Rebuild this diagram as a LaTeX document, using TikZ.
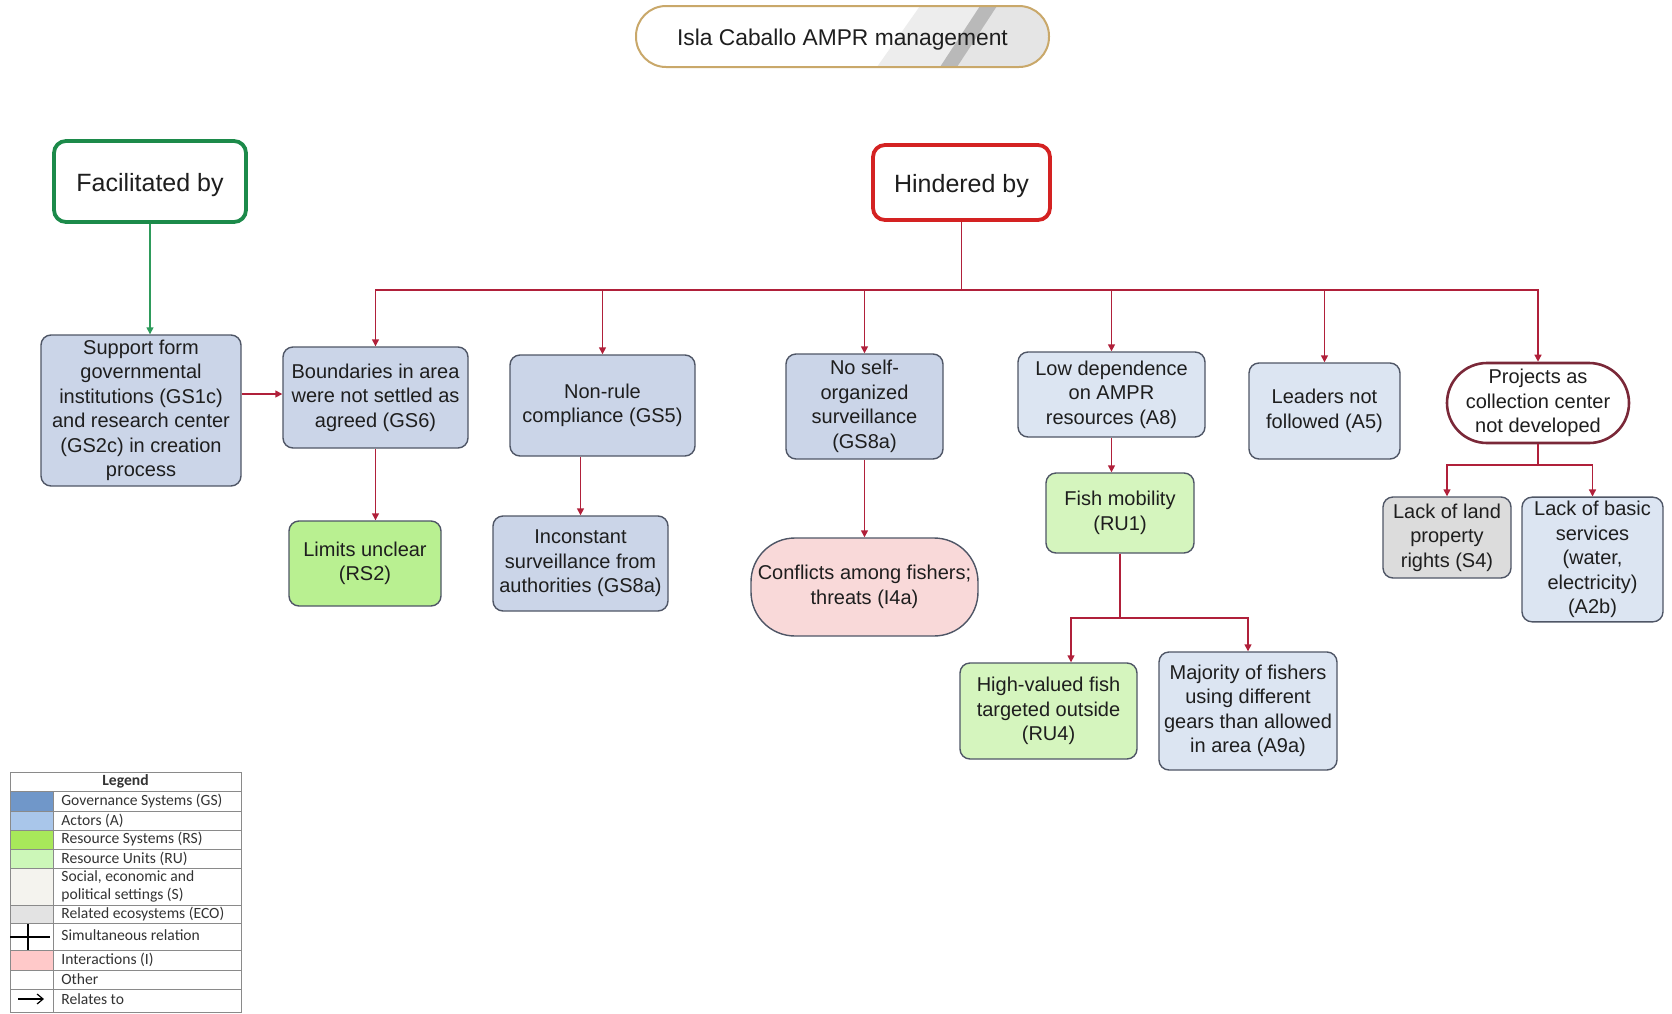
\documentclass[tikz,border=0pt]{standalone}
\usepackage{fontspec}
\setmainfont{Liberation Sans}
\newfontfamily\legfont{Carlito}
\usetikzlibrary{arrows.meta,calc}
\definecolor{bordc}{HTML}{4F5666}
\definecolor{txtc}{HTML}{1E1E1E}
\definecolor{gsfill}{HTML}{CBD5E8}
\definecolor{actfill}{HTML}{DCE5F2}
\definecolor{rsfill}{HTML}{B9F091}
\definecolor{rufill}{HTML}{D5F5BE}
\definecolor{sfill}{HTML}{DCDCDC}
\definecolor{ifill}{HTML}{F9D9D9}
\definecolor{arrc}{HTML}{B0203A}
\definecolor{garrc}{HTML}{2E9B5B}
\definecolor{facc}{HTML}{1C8A4A}
\definecolor{hinc}{HTML}{D42222}
\definecolor{projc}{HTML}{7A2838}
\definecolor{titlec}{HTML}{C9A86A}
\definecolor{lgGS}{HTML}{7097C9}
\definecolor{lgA}{HTML}{A9C6EA}
\definecolor{lgRS}{HTML}{A8E85A}
\definecolor{lgRU}{HTML}{CCF7B8}
\definecolor{lgS}{HTML}{F4F3EE}
\definecolor{lgECO}{HTML}{E3E3E3}
\definecolor{lgI}{HTML}{FFC9C9}
\definecolor{lgline}{HTML}{8A8A8A}
\begin{document}
\begin{tikzpicture}[x=0.5pt,y=-0.5pt,
  box/.style={draw=bordc, line width=0.7pt, rounded corners=5pt, align=center,
    text=txtc, font=\fontsize{10}{12.25}\selectfont, inner sep=2pt},
  gs/.style={box, fill=gsfill},
  act/.style={box, fill=actfill},
  rs/.style={box, fill=rsfill},
  ru/.style={box, fill=rufill},
  sset/.style={box, fill=sfill},
  inter/.style={box, fill=ifill, rounded corners=22pt},
  proj/.style={box, draw=projc, line width=1.3pt, fill=white, rounded corners=20pt},
  head/.style={draw, line width=1.9pt, rounded corners=6pt, fill=white, text=txtc,
    font=\fontsize{12.5}{15}\selectfont, text height=9.7pt, text depth=0pt},
  arr/.style={draw=arrc, line width=0.7pt, -{Triangle[length=3.5pt,width=3.5pt]}},
  garr/.style={draw=garrc, line width=0.7pt, -{Triangle[length=3.5pt,width=3.5pt]}},
  legtext/.style={anchor=west, inner sep=0pt, text=black!80, font=\legfont\fontsize{7.8}{9.2}\selectfont, align=left},
  legcell/.style={draw=lgline, line width=0.4pt}
]
\useasboundingbox (0,0) rectangle (1672,1013);

% title
\begin{scope}
  \clip[rounded corners=15pt] (636,6) rectangle (1049,67);
  \fill[white] (636,6) rectangle (1049,67);
  \fill[gray!14] (920,6) -- (1049,6) -- (1049,67) -- (877,67) -- cycle;
  \fill[gray!20] (997,6) -- (1049,6) -- (1049,67) -- (957,67) -- cycle;
  \fill[gray!55] (980,6) -- (997,6) -- (957,67) -- (940,67) -- cycle;
\end{scope}
\node[draw=titlec, line width=1pt, rounded corners=15pt, minimum width=206.5pt,
  minimum height=30.5pt, text=txtc, font=\fontsize{11.4}{14}\selectfont,
  text height=9pt, text depth=0pt] (title) at (842.5,36.5)
  {Isla Caballo AMPR management};

% headers
\node[head, draw=facc, minimum width=96pt, minimum height=40.5pt] (fac) at (150,181.5) {Facilitated by};
\node[head, draw=hinc, minimum width=88.5pt, minimum height=37.5pt] (hin) at (961.5,182.5) {Hindered by};

% level 1
\node[gs, minimum width=100pt, minimum height=75.5pt] (sup) at (141,410.5)
  {Support form\\governmental\\institutions (GS1c)\\and research center\\(GS2c) in creation\\process};
\node[gs, minimum width=92.5pt, minimum height=50.5pt] (bnd) at (375.5,397.5)
  {Boundaries in area\\were not settled as\\agreed (GS6)};
\node[gs, minimum width=92.5pt, minimum height=50.5pt] (nr) at (602.5,405.5)
  {Non-rule\\compliance (GS5)};
\node[gs, minimum width=78.5pt, minimum height=52.5pt] (ns) at (864.5,406.5)
  {No self-\\organized\\surveillance\\(GS8a)};
\node[act, minimum width=93.5pt, minimum height=42.5pt] (low) at (1111.5,394.5)
  {Low dependence\\on AMPR\\resources (A8)};
\node[act, minimum width=75.5pt, minimum height=48pt] (lead) at (1324.5,411)
  {Leaders not\\followed (A5)};
\node[proj, minimum width=91pt, minimum height=40pt] (proj) at (1538,403)
  {Projects as\\collection center\\not developed};

% level 2
\node[rs, minimum width=76pt, minimum height=42.5pt] (lim) at (365,563.5)
  {Limits unclear\\(RS2)};
\node[gs, minimum width=87.5pt, minimum height=47.5pt] (inc) at (580.5,563.5)
  {Inconstant\\surveillance from\\authorities (GS8a)};
\node[inter, minimum width=113.5pt, minimum height=49pt] (conf) at (864.5,587)
  {Conflicts among fishers;\\threats (I4a)};
\node[ru, minimum width=74pt, minimum height=40pt] (fish) at (1120,513)
  {Fish mobility\\(RU1)};
\node[sset, minimum width=64pt, minimum height=40.5pt] (land) at (1447,537.5)
  {Lack of land\\property\\rights (S4)};
\node[act, minimum width=70.5pt, minimum height=60.5pt] (basic) at (1592.5,559.5)
  {Lack of basic\\services\\(water,\\electricity)\\(A2b)};

% level 3
\node[ru, minimum width=88.5pt, minimum height=48pt] (high) at (1048.5,711)
  {High-valued fish\\targeted outside\\(RU4)};
\node[act, minimum width=89pt, minimum height=59pt] (maj) at (1248,711)
  {Majority of fishers\\using different\\gears than allowed\\in area (A9a)};

% connectors
\coordinate (hbar) at (0,290);
\coordinate (sb) at (0,394);
\coordinate (fsplit) at (0,618);
\coordinate (psplit) at (0,465);

\draw[garr] (fac.south) -- (fac.south |- sup.north);
\foreach \n in {bnd,nr,ns,low,lead,proj}
  \draw[arr] (hin.south) -- (hin.south |- hbar) -| (\n.north);
\draw[arr] (sup.east |- sb) -- (bnd.west |- sb);
\draw[arr] (bnd.south) -- (bnd.south |- lim.north);
\draw[arr] (inc.north |- nr.south) -- (inc.north);
\draw[arr] (ns.south) -- (conf.north);
\draw[arr] (low.south) -- (low.south |- fish.north);
\draw[arr] (fish.south) -- (fish.south |- fsplit) -| ($(high.north)+(22.5,0)$);
\draw[arr] (fish.south) -- (fish.south |- fsplit) -| (maj.north);
\draw[arr] (proj.south) -- (proj.south |- psplit) -| (land.north);
\draw[arr] (proj.south) -- (proj.south |- psplit) -| (basic.north);

% legend
\fill[white] (10,772) rectangle (241,1012);
\fill[lgGS] (10,791) rectangle (53,811);
\fill[lgA] (10,811) rectangle (53,830);
\fill[lgRS] (10,830) rectangle (53,849);
\fill[lgRU] (10,849) rectangle (53,868);
\fill[lgS] (10,868) rectangle (53,905);
\fill[lgECO] (10,905) rectangle (53,923);
\fill[lgI] (10,950) rectangle (53,970);
\draw[legcell] (10,772) rectangle (241,1012);
\foreach \yy in {791,811,830,849,868,905,923,950,970,989}
  \draw[legcell] (10,\yy) -- (241,\yy);
\draw[legcell] (53,791) -- (53,1012);
\node[legtext, anchor=center, font=\legfont\bfseries\fontsize{7.8}{9.2}\selectfont] (lgh) at (125.5,781.5) {Legend};
\node[legtext] (lg1) at (61,801) {Governance Systems (GS)};
\node[legtext] (lg2) at (61,820.5) {Actors (A)};
\node[legtext] (lg3) at (61,839.5) {Resource Systems (RS)};
\node[legtext] (lg4) at (61,858.5) {Resource Units (RU)};
\node[legtext] (lg5) at (61,886.5) {Social, economic and\\political settings (S)};
\node[legtext] (lg6) at (61,914) {Related ecosystems (ECO)};
\node[legtext] (lg7) at (61,935) {Simultaneous relation};
\node[legtext] (lg8) at (61,960) {Interactions (I)};
\node[legtext] (lg9) at (61,979.5) {Other};
\node[legtext] (lg10) at (61,999) {Relates to};
\coordinate (sv1) at (28,924);
\coordinate (sv2) at (28,950);
\coordinate (sh1) at (10,937);
\coordinate (sh2) at (50,937);
\draw[line width=0.6pt] (sv1) -- (sv2);
\draw[line width=0.6pt] (sh1) -- (sh2);
\coordinate (ra1) at (18,999);
\coordinate (ra2) at (44,999);
\draw[line width=0.6pt, -{Straight Barb[length=3pt,width=5pt]}] (ra1) -- (ra2);
\end{tikzpicture}
\end{document}
